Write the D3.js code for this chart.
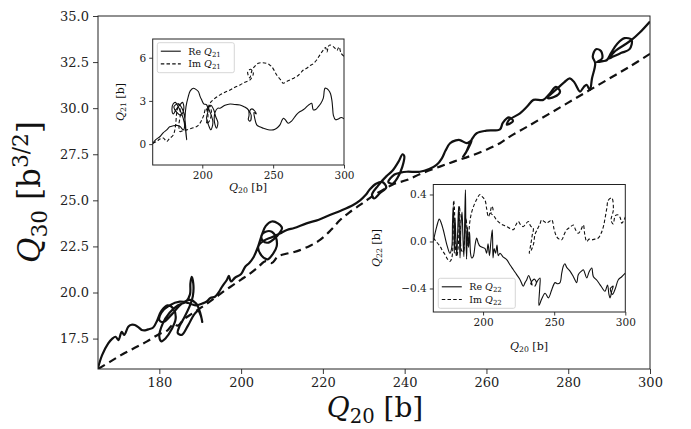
<!DOCTYPE html>
<html>
<head>
<meta charset="utf-8">
<script src="https://cdn.jsdelivr.net/npm/d3@7"></script>
<style>
  body { margin: 0; background: #fff; }
  svg { display: block; }
</style>
</head>
<body>
<script>
// tick labels
const mainXTicks = [180, 200, 220, 240, 260, 280, 300];
const mainYTicks = [17.5, 20.0, 22.5, 25.0, 27.5, 30.0, 32.5, 35.0];
const inset1YTicks = [0, 3, 6];
const inset2YTicks = [-0.4, 0.0, 0.4];
const insetXTicks = [200, 250, 300];

// main panel: [Q20, Q30]
const mainSolid = [[165,15.9],[166,16.6],[167.5,17.24],[168.5,17.5],[169.3,17.6],[170,17.42],[170.8,17.87],[171.4,17.7],[172.4,18.14],[173.2,18.25],[174,18.24],[175,18.1],[175.7,17.97],[176.5,17.95],[177.3,18.0],[178.5,18.1],
  [179.5,18.5],[180.5,19.0],[182,19.3],[183.5,19.1],[184,18.6],[183,18.0],[181.5,17.5],[180.5,17.35],[180,17.6],[180.8,18.3],[182.5,18.9],[184.5,19.3],[186.5,19.5],[187.5,19.9],[187.6,20.5],[187.9,20.85],[188.3,20.5],[188.2,19.8],[187.5,19.3],[186,18.6],[185,18.2],[184.5,17.8],[185.5,17.7],[187,18.2],[188.5,18.8],[189.5,19.0],[190.2,18.7],[190.5,18.4],[190,18.9],[189,19.4],[187.5,19.6],[185.5,19.4],[183,18.8],[181,18.4],[180,18.5],[180.5,18.9],[182.5,19.3],[185,19.5],[187.5,19.4],[189,19.3],[190.5,19.4],[191.5,19.5],[192.5,19.7],[193.6,19.77],[194.5,20.0],[195.3,20.3],[196.5,20.68],[197,20.9],[197.5,20.6],[198.5,20.8],[200,21.0],[201,21.4],[202,21.6],
  [203,21.9],[204,22.4],[204.6,22.8],[205.2,23.2],[206,23.6],[207.5,23.85],[209,23.75],[210,23.5],[209.3,23.2],[208,22.9],[206.5,22.7],[205.3,22.8],[205,23.1],[206,23.3],[207.5,23.3],[208.5,23.0],[208.7,22.5],[207.8,22.1],[206.5,21.8],[205,22.0],[204.2,22.5],[205.5,22.8],[207.5,23.0],[209.5,23.2],[211.2,23.39],[213,23.5],[216,23.75],[219,23.95],[221.7,24.2],[224.5,24.45],[227.4,24.75],[229.1,25.0],[230.5,25.3],
  [231.5,25.6],[233,25.9],[234.5,26.0],[235.5,25.7],[234,25.4],[232.5,25.1],[232,25.3],[233.5,25.8],[235.5,26.3],[237,26.6],[238.5,27.1],[239.5,27.5],[239.9,27.4],[239.4,26.8],[238.2,26.2],[237,25.9],[236,26.0],[237.5,26.4],[239,26.5],[240.5,26.55],[243.7,26.55],[246,26.7],[247.8,26.92],[249.1,27.28],[250,27.7],[251.1,28.1],[252.5,28.25],[253.5,28.27],[255.2,28.1],[256,28.2],[256.4,28.27],[255.5,27.8],[254.3,27.37],[255,27.6],[256.4,28.3],[257.6,28.64],[260,28.78],[263.3,28.85],[264,29.2],[265.5,29.5],[266.5,29.3],[265,29.1],[265.5,29.35],[268.2,29.72],[270,30.1],[271.5,30.45],[273.9,30.45],[275.5,30.8],[277,31.15],[278,30.9],[276.5,30.6],[275,30.55],[277.5,31.1],[279,31.4],[280.4,31.62],[281.5,31.4],[282.9,30.9],[283.8,31.15],[284.5,31.26],[285.3,30.99],[285.8,31.6],[286.6,32.43],[286,32.8],[286.8,33.2],[288,33.1],[288.3,32.7],[287,32.5],[288.5,32.55],[289.4,32.6],[290.5,33.0],[292,33.5],[293.8,33.8],[295.5,33.7],[295,33.2],[293,33.0],[291,32.8],[290,32.7],[291.5,33.1],[293.5,33.4],[295.5,33.7],[297.5,34.1],[300,34.7]];

const mainDashed = [[165,15.85],[168,16.25],[171,16.65],[174,17.0],[177,17.35],[180,17.75],[182,17.95],[183.5,18.3],[184.5,18.2],[186,18.55],[188,18.85],[190,19.15],[192,19.45],[194,19.77],[196,20.1],[198,20.4],[200,20.7],[202,21.0],[204,21.35],[206,21.7],[207.5,21.6],[209,21.95],[211,22.1],[213,22.2],[214.4,22.3],[217,22.55],[219.3,22.85],[222,23.4],[224.2,23.93],[226.5,24.35],[229.1,24.75],[231,25.05],[233,25.35],[235,25.6],[237.5,25.9],[240.5,26.1],[244,26.45],[248.6,26.83],[252,27.1],[256,27.4],[260,27.75],[263.3,28.1],[266,28.5],[270,29.0],[275,29.65],[280,30.3],[285,30.95],[290,31.6],[295,32.25],[300,32.95]];

// inset 1: [Q20, Q21]
const reQ21 = [[165,0.05],[167,0.3],[170.2,0.53],[172.5,0.8],[174.9,0.99],[177,1.2],[179.5,1.27],[182,1.3],[184.3,1.22],[186.6,0.99],
  [187.5,1.3],[186.5,1.8],[185,2.2],[183,2.6],[181,2.9],[179.5,2.8],[178.6,2.4],[179.5,2.1],[181.5,2.4],[184,2.7],[186,2.9],[187,2.5],[185,2.0],[182,2.2],[180,2.6],[183,2.8],[186.5,2.3],[188,1.5],[188.5,0.8],[189,0.3],[188.2,1.0],[187.8,1.8],[188.5,2.6],[190.1,3.3],[191.5,3.7],[193.7,3.88],[195.5,3.8],[197.2,3.65],[198.5,3.3],[199.6,3.07],[201,2.8],[203.1,2.72],
  [204,2.3],[203,1.8],[204.5,1.3],[206,1.0],[207.5,1.5],[206,2.1],[204.5,2.5],[206,2.7],[208,2.4],[209.5,1.9],[211,1.5],[210,1.1],[208.5,1.6],[209,2.2],[211,2.5],[212.5,2.49],[216,2.7],[219.6,2.79],[223,2.75],[226.6,2.72],[229.5,2.6],[232.5,2.38],[233,2.0],[232.5,1.7],[233.8,1.6],[234.5,2.0],[233.5,2.3],[235,2.45],[237,2.3],[238,2.1],[236.5,2.2],[237,1.8],[238.4,1.34],[240.5,1.2],[243.1,1.1],[246.5,1.0],[250.1,0.99],[252.5,1.1],[254.8,1.34],[256,1.6],[257.2,1.8],[258.5,1.7],[260.7,1.45],[263,1.6],[265.4,1.91],[267,2.1],[269,2.26],[271.5,2.4],[273.7,2.6],[275.5,2.75],[277.2,2.84],[278.3,2.38],[280,2.4],[281.9,2.6],[283.5,2.8],[285.4,3.19],[286.6,3.88],[288,3.85],[289,3.76],[290.5,3.5],[291.5,3.0],[292,2.5],[292.5,2.0],[294,1.7],[296,1.75],[298,1.85],[300,1.75]];

const imQ21 = [[165,0.05],[168,0.2],[170,0.35],[172.5,0.42],[174.9,0.18],[176.5,0.35],[179.5,0.64],[181,1.2],[182,2.2],[183.5,2.8],[184.5,2.1],[183.5,1.3],[184.3,0.87],[186.5,0.95],[189,0.99],[192.5,1.1],[196.1,1.22],[198,1.4],[199.6,1.68],
  [201,2.0],[202.5,2.5],[204,2.0],[203,1.4],[205,1.6],[206.5,2.2],[205,2.7],[203.5,2.3],[205.4,2.84],[208,3.1],[212.5,3.42],[216,3.6],[219.6,3.76],[223,3.95],[226.6,4.11],[230,4.3],[233.7,4.46],[236,4.92],[234,5.2],[232,5.0],[233.5,4.6],[235,5.1],[237,5.4],[239.5,5.61],[242.5,5.65],[245.4,5.61],[247.5,5.5],[249,5.38],[250.8,5.1],[252.5,4.8],[255,4.5],[257.2,4.23],[259.5,4.35],[261.9,4.46],[264,4.55],[266.6,4.69],[269,4.9],[271.3,5.15],[273.7,5.27],[276,5.45],[278.5,5.6],[280.7,5.84],[283,6.2],[285.4,6.53],[287,6.7],[288,6.4],[289,6.8],[290.1,6.88],[292,6.8],[293.7,6.65],[295,6.5],[296.5,6.75],[298,6.3],[300,6.1]];

// inset 2: [Q20, Q22]
const reQ22 = [[165,0],[167.4,0.127],[169.2,0.19],[170.5,0.16],[172,0.1],[174.8,-0.04],[176.7,-0.1],
  [178,-0.05],[178.5,0.15],[179,0.3],[179.4,0.2],[179.8,-0.1],[180.3,0.2],[180.8,0.05],[181.5,-0.12],[182.2,0.1],[182.8,0.3],[183.3,0.1],[183.8,-0.14],[184.5,0.15],[185.2,0.25],[185.8,0.05],[186.5,-0.13],[187.2,0.25],[187.6,0.44],[187.9,0.1],[188.4,-0.15],[189,0.12],[189.8,-0.05],[190.5,0.08],[191.2,-0.1],[192,-0.14],[193.1,-0.127],[194.5,-0.02],[195.5,0.03],[196.5,-0.01],[197.8,-0.04],[199.5,-0.05],[201.4,-0.06],[202.5,-0.1],[203.5,-0.02],[204.5,-0.12],[205.5,0.0],[206.5,0.1],[207,-0.14],[207.8,-0.06],[208.8,-0.1],[209.8,-0.03],[210.7,-0.12],[211.9,-0.1],[214,-0.13],[216.6,-0.155],[219,-0.2],[221.3,-0.24],[223.5,-0.28],[226,-0.325],[228.3,-0.38],[229.5,-0.35],[230.7,-0.325],[232,-0.29],[233.5,-0.33],[234.5,-0.37],[233.5,-0.36],[236,-0.32],[237.5,-0.35],[236.5,-0.38],[238.5,-0.33],[240,-0.31],[239.8,-0.4],[239.3,-0.545],[241.2,-0.49],[243.6,-0.44],[245.9,-0.48],[248.3,-0.41],[250.6,-0.35],[252.5,-0.36],[254.1,-0.35],[255.3,-0.27],[256.4,-0.21],[257.5,-0.19],[258.8,-0.22],[261,-0.25],[263.5,-0.3],[265.8,-0.35],[267,-0.28],[269.4,-0.25],[270.5,-0.24],[272.9,-0.31],[274.5,-0.26],[276.4,-0.225],[277.5,-0.297],[280,-0.33],[282.2,-0.367],[284,-0.4],[285.7,-0.424],[287.5,-0.37],[288.5,-0.45],[289.3,-0.48],[290.5,-0.42],[291.5,-0.38],[289.5,-0.4],[291,-0.45],[293,-0.4],[295.1,-0.325],[297.5,-0.3],[300,-0.27]];

const imQ22 = [[165,0.03],[167,0.0],[169.7,-0.04],[171.5,-0.08],[173.2,-0.11],[175,-0.15],[176.7,-0.17],[178,-0.14],[179,0.1],[179.3,0.35],[179.8,0.3],[180.3,0.0],[181.4,-0.127],[182.5,-0.05],[183.5,0.3],[184,0.1],[185,-0.08],[186.1,-0.085],[187,0.05],[188,0.2],[189.5,-0.05],[190.5,0.15],[192,0.25],[194,0.32],[196,0.37],[197.8,0.4],[199.5,0.38],[201.4,0.35],[202.5,0.28],[203.7,0.21],[205,0.25],[206.1,0.3],[207,0.27],[205.5,0.24],[207.5,0.22],[209,0.19],[211.9,0.156],[214,0.14],[216.6,0.127],[219,0.11],[221.3,0.1],[223,0.14],[224.8,0.17],[226.5,0.14],[228.3,0.127],[230,0.15],[231.8,0.17],[233.5,0.13],[235.3,0.113],[234.5,0.05],[233.5,-0.03],[232.5,-0.1],[234,-0.07],[235.5,-0.02],[236.5,0.06],[238,0.1],[240,0.15],[241.2,0.184],[243,0.17],[244.7,0.156],[246.5,0.17],[248.3,0.184],[250,0.1],[251.8,0.04],[253.5,0.02],[255.3,0.014],[257,0.06],[258.8,0.1],[261,0.12],[263.5,0.14],[265,0.1],[267,0.07],[268.8,0.1],[270.5,0.14],[271.5,0.06],[272.9,0.0],[274.5,0.02],[276.4,0.014],[278.5,0.02],[281,0.03],[283,0.07],[284.6,0.127],[285.8,0.2],[287,0.283],[288,0.35],[290.5,0.37],[291.6,0.27],[290,0.18],[291.5,0.15],[293,0.22],[295.1,0.226],[296.5,0.2],[297.5,0.156],[299,0.18],[300,0.21]];

const W = 691, H = 429;
const serif = "'DejaVu Serif', serif";
const svg = d3.select('body').append('svg').attr('width', W).attr('height', H);

// draws one set of axes, returns scales
function panel(box, xdom, ydom, opt) {
  const x = d3.scaleLinear().domain(xdom).range([box.left, box.right]);
  const y = d3.scaleLinear().domain(ydom).range([box.bottom, box.top]);
  const g = svg.append('g');
  const clipId = 'clip' + opt.id;
  svg.append('clipPath').attr('id', clipId).append('rect')
    .attr('x', box.left).attr('y', box.top)
    .attr('width', box.right - box.left).attr('height', box.bottom - box.top);
  g.append('rect')
    .attr('x', box.left).attr('y', box.top)
    .attr('width', box.right - box.left).attr('height', box.bottom - box.top)
    .attr('fill', '#fff');

  const xa = d3.axisBottom(x).tickValues(opt.xticks).tickSize(opt.tick).tickPadding(opt.pad).tickFormat(opt.xfmt);
  const ya = d3.axisLeft(y).tickValues(opt.yticks).tickSize(opt.tick).tickPadding(opt.pad).tickFormat(opt.yfmt);
  const gx = g.append('g').attr('transform', `translate(0,${box.bottom})`).call(xa);
  const gy = g.append('g').attr('transform', `translate(${box.left},0)`).call(ya);
  [gx, gy].forEach(a => {
    a.select('.domain').remove();
    a.selectAll('line').attr('stroke', '#222').attr('stroke-width', 0.9);
    a.selectAll('text').attr('font-family', serif).attr('font-size', opt.fs).attr('fill', '#222');
  });

  const lines = g.append('g').attr('clip-path', `url(#${clipId})`);
  g.append('rect')
    .attr('x', box.left).attr('y', box.top)
    .attr('width', box.right - box.left).attr('height', box.bottom - box.top)
    .attr('fill', 'none').attr('stroke', '#222').attr('stroke-width', 1);
  return {x, y, g, lines};
}

function drawLine(p, data, width, dash) {
  const line = d3.line().x(d => p.x(d[0])).y(d => p.y(d[1])).curve(d3.curveCatmullRom.alpha(0.5));
  p.lines.append('path').datum(data)
    .attr('d', line)
    .attr('fill', 'none')
    .attr('stroke', '#111')
    .attr('stroke-width', width)
    .attr('stroke-linejoin', 'round')
    .attr('stroke-dasharray', dash || null);
}

// label with italic Q and subscript
function qLabel(parent, x, y, sub, rest, fs, rotate, sup) {
  const t = parent.append('text')
    .attr('font-family', serif).attr('fill', '#111')
    .attr('text-anchor', 'middle')
    .attr('transform', `translate(${x},${y})` + (rotate ? ' rotate(-90)' : ''));
  t.append('tspan').attr('font-style', 'italic').attr('font-size', fs).text('Q');
  t.append('tspan').attr('font-size', fs * 0.7).attr('dy', fs * 0.22).text(sub);
  t.append('tspan').attr('font-size', fs).attr('dy', -fs * 0.22).text(rest);
  if (sup) {
    t.append('tspan').attr('font-size', fs * 0.7).attr('dy', -fs * 0.38).text(sup);
    t.append('tspan').attr('font-size', fs).attr('dy', fs * 0.38).text(']');
  }
  return t;
}

// main axes
const main = panel({left: 98, right: 650, top: 16, bottom: 369}, [165, 300], [15.85, 35],
  {id: 'm', xticks: mainXTicks, yticks: mainYTicks, tick: 5, pad: 4, fs: 13,
   xfmt: d3.format('d'), yfmt: d3.format('.1f')});
drawLine(main, mainDashed, 2.2, '8,5');
drawLine(main, mainSolid, 2.2);
qLabel(svg, 375, 417, '20', ' [b]', 28, false);
qLabel(svg, 40, 192, '30', ' [b', 31, true, '3/2');

// legend box inside an inset
function legend(p, bx, by, sub) {
  const g = p.g.append('g');
  g.append('rect').attr('x', bx).attr('y', by).attr('width', 77).attr('height', 30)
    .attr('rx', 2).attr('fill', '#fff').attr('fill-opacity', 0.8)
    .attr('stroke', '#ccc').attr('stroke-width', 0.8);
  const rows = [['Re', null], ['Im', '3.5,2.2']];
  rows.forEach((r, i) => {
    const yy = by + 8.5 + i * 12.7;
    g.append('line').attr('x1', bx + 3.5).attr('x2', bx + 23.5).attr('y1', yy).attr('y2', yy)
      .attr('stroke', '#111').attr('stroke-width', 1.1).attr('stroke-dasharray', r[1]);
    const t = g.append('text').attr('x', bx + 31).attr('y', yy + 3.5)
      .attr('font-family', serif).attr('font-size', 9.5).attr('fill', '#111');
    t.append('tspan').text(r[0] + ' ');
    t.append('tspan').attr('font-style', 'italic').text('Q');
    t.append('tspan').attr('font-size', 7).attr('dy', 2).text(sub);
  });
}

// inset 1
const in1 = panel({left: 152.7, right: 344, top: 39, bottom: 165}, [165, 300], [-1.45, 7.3],
  {id: 'a', xticks: insetXTicks, yticks: inset1YTicks, tick: 3.5, pad: 3, fs: 10.5,
   xfmt: d3.format('d'), yfmt: d3.format('d')});
drawLine(in1, imQ21, 1.1, '3.5,2.2');
drawLine(in1, reQ21, 1.1);
legend(in1, 157.3, 42.7, '21');
qLabel(svg, 248, 191, '20', ' [b]', 11, false);
qLabel(svg, 124, 102, '21', ' [b]', 11, true);

// inset 2
const in2 = panel({left: 433.3, right: 625.3, top: 184.5, bottom: 312}, [165, 300], [-0.6, 0.485],
  {id: 'b', xticks: insetXTicks, yticks: inset2YTicks, tick: 3.5, pad: 3, fs: 10.5,
   xfmt: d3.format('d'), yfmt: d => d3.format('.1f')(d).replace('-', '\u2212')});
drawLine(in2, imQ22, 1.1, '3.5,2.2');
drawLine(in2, reQ22, 1.1);
legend(in2, 438.3, 278.3, '22');
qLabel(svg, 529, 350, '20', ' [b]', 11, false);
qLabel(svg, 380, 248, '22', ' [b]', 11, true);
</script>
</body>
</html>
